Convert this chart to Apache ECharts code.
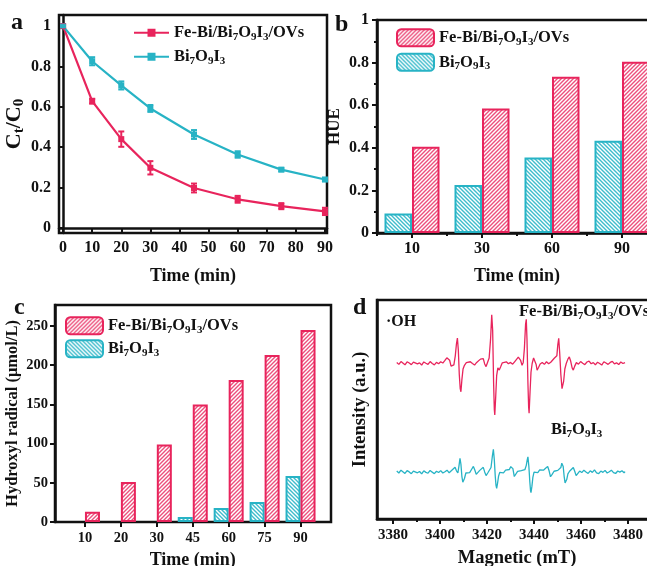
<!DOCTYPE html>
<html><head><meta charset="utf-8">
<script src="https://cdn.jsdelivr.net/npm/echarts@6/dist/echarts.min.js"></script>
<style>html,body{margin:0;padding:0;background:#fff}#c{width:647px;height:566px}</style>
</head><body><div id="c"></div>
<script>
// ---------- data ----------
const timeA = [0, 10, 20, 30, 45, 60, 75, 90];
const ctFe  = [1, 0.628, 0.44, 0.298, 0.198, 0.142, 0.108, 0.082];
const errFe = [0.008, 0.012, 0.038, 0.033, 0.022, 0.017, 0.015, 0.018];
const ctBi  = [1, 0.826, 0.706, 0.592, 0.463, 0.364, 0.289, 0.24];
const errBi = [0.005, 0.02, 0.02, 0.017, 0.022, 0.016, 0.008, 0.008];
const ticksAX = [0, 10, 20, 30, 40, 50, 60, 70, 80, 90];
const ticksAY = [0, 0.2, 0.4, 0.6, 0.8, 1];

const hueCats = ['10', '30', '60', '90'];
const hueFe = [0.405, 0.585, 0.734, 0.804];
const hueBi = [0.092, 0.225, 0.355, 0.433];

const ohCats = ['10', '20', '30', '45', '60', '75', '90'];
const ohFe = [13, 51, 99, 150, 181, 213, 245];
const ohBi = [0, 0, 0, 6.4, 18, 25.6, 58.8];
const ticksCY = [0, 50, 100, 150, 200, 250];

const ticksDX = [3380, 3400, 3420, 3440, 3460, 3480];
const minorDX = [3390, 3410, 3430, 3450, 3470];
// EPR spectra [field (mT), intensity (a.u.)]
const eprFe = [
[3381.6,71.5],[3382.5,70.6],[3383.4,71.9],[3384.2,71.0],[3385.1,70.4],[3386.0,71.8],[3386.9,71.2],[3387.8,70.5],
[3388.7,71.6],[3389.5,72.0],[3390.4,70.8],[3391.3,71.3],[3392.2,70.3],[3393.1,71.7],[3394.0,71.1],[3394.9,70.6],
[3395.8,71.9],[3396.7,71.0],[3397.6,70.4],[3398.5,71.5],[3399.4,70.9],[3400.3,71.8],[3401.2,71.2],[3402.1,72.4],
[3402.9,73.6],[3403.5,74.2],[3404.1,72.5],[3404.7,69.8],[3405.3,69.0],[3405.9,70.4],[3406.5,74.5],[3407.0,80.0],
[3407.4,82.6],[3407.8,77.0],[3408.2,66.0],[3408.6,59.5],[3408.9,58.1],[3409.3,63.5],[3409.8,68.5],[3410.4,70.2],
[3411.2,71.4],[3412.0,70.6],[3412.9,71.8],[3413.8,71.0],[3414.7,70.3],[3415.6,71.5],[3416.4,72.2],[3417.2,73.0],
[3417.9,73.8],[3418.4,73.2],[3419.0,70.8],[3419.6,69.6],[3420.3,70.5],[3420.9,73.5],[3421.5,82.0],[3422.0,93.2],
[3422.4,86.0],[3422.8,62.0],[3423.1,50.0],[3423.3,47.5],[3423.7,56.0],[3424.1,65.5],[3424.6,69.0],[3425.2,68.0],
[3425.8,69.5],[3426.5,71.3],[3427.3,70.6],[3428.2,71.8],[3429.1,70.9],[3430.0,71.5],[3430.9,70.7],[3431.8,71.9],
[3432.6,72.8],[3433.3,73.9],[3433.8,74.2],[3434.3,72.4],[3434.9,70.2],[3435.4,71.5],[3435.9,78.0],[3436.4,89.0],
[3436.7,91.2],[3437.0,82.0],[3437.4,62.0],[3437.7,51.0],[3437.9,48.3],[3438.3,58.0],[3438.7,67.0],[3439.2,71.0],
[3439.8,73.5],[3440.3,74.0],[3440.9,70.5],[3441.3,68.0],[3441.9,69.2],[3442.6,70.8],[3443.5,71.5],[3444.4,70.6],
[3445.3,71.8],[3446.2,70.9],[3447.1,71.6],[3447.9,72.5],[3448.6,73.4],[3449.2,72.8],[3449.7,74.5],[3450.1,79.5],
[3450.5,82.5],[3450.9,76.0],[3451.4,66.0],[3451.9,59.5],[3452.2,58.9],[3452.6,63.0],[3453.1,68.5],[3453.7,71.0],
[3454.4,73.0],[3455.0,74.0],[3455.6,72.0],[3456.2,69.0],[3456.7,68.0],[3457.3,69.8],[3458.0,71.4],[3458.9,70.7],
[3459.8,71.9],[3460.7,71.1],[3461.6,70.5],[3462.5,71.7],[3463.4,72.1],[3464.3,70.9],[3465.2,71.4],[3466.1,70.4],
[3467.0,71.6],[3467.9,71.0],[3468.8,70.3],[3469.7,71.8],[3470.6,71.2],[3471.5,70.6],[3472.4,71.5],[3473.3,72.0],
[3474.2,70.8],[3475.1,71.3],[3476.0,70.5],[3476.9,71.7],[3477.8,71.0],[3478.7,71.4]
];
const eprBi = [
[3381.6,21.9],[3382.5,21.0],[3383.4,22.3],[3384.2,21.4],[3385.1,20.8],[3386.0,22.1],[3386.9,21.5],[3387.8,20.7],
[3388.7,21.9],[3389.5,22.4],[3390.4,21.1],[3391.3,21.7],[3392.2,20.6],[3393.1,22.0],[3394.0,21.3],[3394.9,20.9],
[3395.8,22.2],[3396.7,21.4],[3397.6,20.7],[3398.5,21.8],[3399.4,21.2],[3400.3,22.1],[3401.2,21.0],[3402.1,21.6],
[3403.0,22.3],[3403.9,21.1],[3404.8,22.0],[3405.6,22.8],[3406.4,23.6],[3407.0,22.0],[3407.6,21.0],[3408.1,24.5],
[3408.5,27.7],[3408.9,25.0],[3409.3,19.5],[3409.7,16.8],[3409.9,16.3],[3410.4,18.5],[3411.0,21.0],[3411.8,21.9],
[3412.6,21.2],[3413.4,22.6],[3414.2,24.0],[3414.8,22.4],[3415.4,20.4],[3416.1,21.3],[3416.9,22.2],[3417.7,22.9],
[3418.4,23.6],[3419.0,21.5],[3419.6,19.8],[3420.3,21.0],[3421.0,21.8],[3421.7,23.5],[3422.3,29.0],[3422.7,31.8],
[3423.1,27.0],[3423.5,19.5],[3423.8,15.5],[3424.1,14.0],[3424.5,16.5],[3424.9,19.5],[3425.4,21.3],[3426.2,22.0],
[3427.0,21.1],[3427.9,22.3],[3428.7,21.5],[3429.5,22.6],[3430.1,23.9],[3430.5,24.5],[3431.0,23.0],[3431.6,19.4],
[3432.2,20.3],[3433.0,21.7],[3433.8,21.0],[3434.6,22.1],[3435.4,21.4],[3436.1,22.5],[3436.7,24.5],[3437.1,27.0],
[3437.4,28.4],[3437.8,24.0],[3438.2,17.0],[3438.5,13.0],[3438.7,12.0],[3439.1,15.0],[3439.5,19.0],[3440.0,21.4],
[3440.8,22.0],[3441.6,21.2],[3442.4,22.4],[3443.2,21.6],[3444.0,22.3],[3444.9,23.2],[3445.8,24.0],[3446.4,22.0],
[3447.0,19.3],[3447.7,20.4],[3448.5,21.8],[3449.3,21.0],[3450.1,22.2],[3450.8,21.5],[3451.4,23.5],[3451.8,25.5],
[3452.0,26.2],[3452.4,24.0],[3452.8,19.5],[3453.2,16.5],[3453.5,15.8],[3453.9,18.0],[3454.4,20.6],[3455.1,21.8],
[3455.9,22.7],[3456.7,23.5],[3457.3,21.8],[3457.9,19.8],[3458.6,20.6],[3459.4,21.9],[3460.3,21.2],[3461.2,22.3],
[3462.1,21.5],[3463.0,20.8],[3463.9,22.0],[3464.8,21.3],[3465.7,22.4],[3466.6,21.1],[3467.5,20.7],[3468.4,21.9],
[3469.3,21.3],[3470.2,22.2],[3471.1,21.0],[3472.0,21.6],[3472.9,22.3],[3473.8,21.2],[3474.7,20.8],[3475.6,21.9],
[3476.5,21.4],[3477.4,22.0],[3478.3,21.1],[3478.7,21.6]
];

const nameFe = 'Fe-Bi/Bi{s|7}O{s|9}I{s|3}/OVs';
const nameBi = 'Bi{s|7}O{s|9}I{s|3}';

// ---------- styles ----------
const RED = '#e8245c', TEAL = '#27b3c5', INK = '#111';
const FONT = '"Liberation Serif","Times New Roman",serif';

function hatch(color, dir) {
  const c = document.createElement('canvas');
  c.width = 4; c.height = 4;
  const g = c.getContext('2d');
  g.fillStyle = '#fff'; g.fillRect(0, 0, 4, 4);
  g.strokeStyle = color; g.lineWidth = 1.4;
  g.beginPath();
  if (dir > 0) { g.moveTo(-1, 5); g.lineTo(5, -1); g.moveTo(-1, 1); g.lineTo(1, -1); g.moveTo(3, 5); g.lineTo(5, 3); }
  else { g.moveTo(-1, -1); g.lineTo(5, 5); g.moveTo(3, -1); g.lineTo(5, 1); g.moveTo(-1, 3); g.lineTo(1, 5); }
  g.stroke();
  return { image: c, repeat: 'repeat' };
}
const patRed = hatch('#ec4f7c', 1);
const patTeal = hatch('#3fbccc', -1);

const subRich = (fs) => ({ s: { fontSize: Math.round(fs * 0.66), fontWeight: 'bold', fontFamily: FONT, color: INK, verticalAlign: 'bottom', lineHeight: Math.round(fs * 0.66) } });
const lbl = (fs, extra) => Object.assign({ fontFamily: FONT, fontWeight: 'bold', fontSize: fs, color: INK }, extra || {});
const nameStyle = (fs) => ({ fontFamily: FONT, fontWeight: 'bold', fontSize: fs, color: INK, lineHeight: fs + 3, rich: subRich(fs) });
const axisLine = { show: true, lineStyle: { color: INK, width: 2.5 } };
const tick = (len) => ({ show: true, length: len, lineStyle: { color: INK, width: 2 } });
const gridBox = { show: true, borderColor: INK, borderWidth: 2.5, backgroundColor: 'transparent', outerBoundsMode: 'none', containLabel: false };

function errSeries(vals, errs, color) {
  return {
    type: 'custom', xAxisIndex: 0, yAxisIndex: 0, z: 4,
    data: timeA.map((t, i) => [t, vals[i] - errs[i], vals[i] + errs[i]]),
    renderItem: (params, api) => {
      const lo = api.coord([api.value(0), api.value(1)]);
      const hi = api.coord([api.value(0), api.value(2)]);
      const w = 3;
      return { type: 'group', children: [
        { type: 'line', shape: { x1: lo[0], y1: lo[1], x2: hi[0], y2: hi[1] }, style: { stroke: color, lineWidth: 2 } },
        { type: 'line', shape: { x1: lo[0] - w, y1: lo[1], x2: lo[0] + w, y2: lo[1] }, style: { stroke: color, lineWidth: 2 } },
        { type: 'line', shape: { x1: hi[0] - w, y1: hi[1], x2: hi[0] + w, y2: hi[1] }, style: { stroke: color, lineWidth: 2 } }
      ] };
    }
  };
}

const LFS = 16.5;
const legendFmt = (n) => (n.endsWith('1') ? nameFe : nameBi);
const legendText = (fs) => ({ fontFamily: FONT, fontWeight: 'bold', fontSize: fs, color: INK, lineHeight: fs + 3, rich: subRich(fs) });

const option = {
  animation: false,
  backgroundColor: '#fff',
  grid: [
    Object.assign({ left: 59, top: 15, width: 268, height: 218 }, gridBox),
    Object.assign({ left: 377, top: 20, width: 280, height: 213 }, gridBox),
    Object.assign({ left: 55, top: 305, width: 276, height: 217 }, gridBox),
    { left: 67, top: 305, width: 251.5, height: 217, show: false, outerBoundsMode: 'none', containLabel: false },
    Object.assign({ left: 377, top: 300, width: 280, height: 219 }, gridBox)
  ],
  xAxis: [
    { gridIndex: 0, type: 'value', min: -1.4, max: 90.7, axisLine, splitLine: { show: false },
      axisTick: Object.assign(tick(5), { customValues: ticksAX }),
      axisLabel: lbl(16, { margin: 7, customValues: ticksAX, formatter: v => String(v) }),
      name: 'Time (min)', nameLocation: 'middle', nameGap: 33, nameTextStyle: nameStyle(18) },
    { gridIndex: 1, type: 'category', data: hueCats, axisLine,
      axisTick: Object.assign(tick(5), { alignWithLabel: true }),
      axisLabel: lbl(16, { margin: 8 }),
      name: 'Time (min)', nameLocation: 'middle', nameGap: 33, nameTextStyle: nameStyle(18) },
    { gridIndex: 1, type: 'category', data: hueCats, position: 'bottom', axisLine: { show: false },
      axisTick: tick(3), axisLabel: { show: false } },
    { gridIndex: 2, type: 'value', show: false, min: 0, max: 1 },
    { gridIndex: 3, type: 'category', data: ohCats, axisLine: { show: false },
      axisTick: Object.assign(tick(5), { alignWithLabel: true }),
      axisLabel: lbl(14.5, { margin: 9 }),
      name: 'Time (min)', nameLocation: 'middle', nameGap: 28, nameTextStyle: nameStyle(18) },
    { gridIndex: 4, type: 'value', min: 3373.2, max: 3492.3, axisLine, splitLine: { show: false },
      axisTick: Object.assign(tick(5), { customValues: ticksDX }),
      axisLabel: lbl(15, { margin: 9, customValues: ticksDX, formatter: v => String(v) }),
      name: 'Magnetic (mT)', nameLocation: 'middle', nameGap: 28, nameTextStyle: nameStyle(18.5) },
    { gridIndex: 4, type: 'value', min: 3373.2, max: 3492.3, position: 'bottom', axisLine: { show: false },
      splitLine: { show: false }, axisTick: Object.assign(tick(3), { customValues: minorDX }), axisLabel: { show: false } }
  ],
  yAxis: [
    { gridIndex: 0, type: 'value', min: -0.025, max: 1.055, axisLine, splitLine: { show: false },
      axisTick: Object.assign(tick(5), { customValues: ticksAY }),
      axisLabel: lbl(16, { margin: 8, customValues: ticksAY, formatter: v => String(v) }),
      name: 'C{s|t}/C{s|0}', nameLocation: 'middle', nameGap: 26, nameRotate: 90, nameTextStyle: nameStyle(22) },
    { gridIndex: 1, type: 'value', min: 0, max: 1, interval: 0.2, axisLine, splitLine: { show: false },
      axisTick: tick(5), minorTick: { show: true, splitNumber: 2, length: 3, lineStyle: { color: INK, width: 2 } },
      minorSplitLine: { show: false },
      axisLabel: lbl(16, { margin: 8, formatter: v => String(v) }),
      name: 'HUE', nameLocation: 'middle', nameGap: 25, nameRotate: 90, nameTextStyle: nameStyle(17) },
    { gridIndex: 2, type: 'value', min: 0, max: 276.8, axisLine, splitLine: { show: false },
      axisTick: Object.assign(tick(5), { customValues: ticksCY }),
      axisLabel: lbl(14.5, { margin: 7, customValues: ticksCY, formatter: v => String(v) }),
      name: 'Hydroxyl radical (μmol/L)', nameLocation: 'middle', nameGap: 25, nameRotate: 90, nameTextStyle: nameStyle(16.5) },
    { gridIndex: 3, type: 'value', min: 0, max: 276.8, show: false },
    { gridIndex: 4, type: 'value', min: 0, max: 100, axisLine, splitLine: { show: false },
      axisTick: { show: false }, axisLabel: { show: false },
      name: 'Intensity (a.u.)', nameLocation: 'middle', nameGap: 6, nameRotate: 90, nameTextStyle: nameStyle(18.5) }
  ],
  legend: [
    { data: ['a1', 'a2'], orient: 'vertical', left: 133, top: 23, padding: 0, itemWidth: 35, itemHeight: 10, itemGap: 4.5,
      formatter: legendFmt, textStyle: legendText(LFS), selectedMode: false },
    { data: ['b1', 'b2'], orient: 'vertical', left: 396, top: 28, padding: 0, itemWidth: 37, itemHeight: 17, itemGap: 5,
      formatter: legendFmt, textStyle: legendText(LFS), selectedMode: false },
    { data: ['c1', 'c2'], orient: 'vertical', left: 65, top: 316, padding: 0, itemWidth: 37, itemHeight: 17, itemGap: 3.5,
      formatter: legendFmt, textStyle: legendText(LFS), selectedMode: false }
  ],
  series: [
    { name: 'a1', type: 'line', xAxisIndex: 0, yAxisIndex: 0, z: 3, data: timeA.map((t, i) => [t, ctFe[i]]),
      symbol: 'rect', symbolSize: 6, color: RED, lineStyle: { width: 2.2, color: RED }, itemStyle: { color: RED } },
    { name: 'a2', type: 'line', xAxisIndex: 0, yAxisIndex: 0, z: 3, data: timeA.map((t, i) => [t, ctBi[i]]),
      symbol: 'rect', symbolSize: 6, color: TEAL, lineStyle: { width: 2.2, color: TEAL }, itemStyle: { color: TEAL } },
    errSeries(ctFe, errFe, RED),
    errSeries(ctBi, errBi, TEAL),
    { name: 'b2', type: 'bar', xAxisIndex: 1, yAxisIndex: 1, data: hueBi, barWidth: 27.5, barGap: '0%',
      itemStyle: { color: patTeal, borderColor: TEAL, borderWidth: 2 } },
    { name: 'b1', type: 'bar', xAxisIndex: 1, yAxisIndex: 1, data: hueFe, barWidth: 27.5, barGap: '0%',
      itemStyle: { color: patRed, borderColor: RED, borderWidth: 2 } },
    { name: 'c2', type: 'bar', xAxisIndex: 4, yAxisIndex: 3, data: ohBi.map(v => (v === 0 ? null : v)), barWidth: 15, barGap: '0%',
      itemStyle: { color: patTeal, borderColor: TEAL, borderWidth: 2 } },
    { name: 'c1', type: 'bar', xAxisIndex: 4, yAxisIndex: 3, data: ohFe, barWidth: 15, barGap: '0%',
      itemStyle: { color: patRed, borderColor: RED, borderWidth: 2 } },
    { name: 'dFe', type: 'line', xAxisIndex: 5, yAxisIndex: 4, data: eprFe, showSymbol: false, symbol: 'none',
      lineStyle: { width: 1.3, color: RED }, color: RED },
    { name: 'dBi', type: 'line', xAxisIndex: 5, yAxisIndex: 4, data: eprBi, showSymbol: false, symbol: 'none',
      lineStyle: { width: 1.3, color: TEAL }, color: TEAL }
  ],
  graphic: [
    { type: 'text', left: 11, top: 11, style: { text: 'a', fontFamily: FONT, fontWeight: 'bold', fontSize: 24, fill: INK } },
    { type: 'text', left: 335, top: 13, style: { text: 'b', fontFamily: FONT, fontWeight: 'bold', fontSize: 24, fill: INK } },
    { type: 'text', left: 14, top: 296, style: { text: 'c', fontFamily: FONT, fontWeight: 'bold', fontSize: 24, fill: INK } },
    { type: 'text', left: 353, top: 296, style: { text: 'd', fontFamily: FONT, fontWeight: 'bold', fontSize: 24, fill: INK } },
    { type: 'text', left: 386, top: 314, style: { text: '·OH', fontFamily: FONT, fontWeight: 'bold', fontSize: 16, fill: INK } },
    { type: 'text', left: 519, top: 302, style: { text: nameFe, fontFamily: FONT, fontWeight: 'bold', fontSize: LFS, fill: INK, lineHeight: LFS + 3, rich: subRich(LFS) } },
    { type: 'text', left: 551, top: 420, style: { text: nameBi, fontFamily: FONT, fontWeight: 'bold', fontSize: LFS, fill: INK, lineHeight: LFS + 3, rich: subRich(LFS) } }
  ]
};

const chart = echarts.init(document.getElementById('c'), null, { renderer: 'canvas' });
chart.setOption(option);
</script>
</body></html>
